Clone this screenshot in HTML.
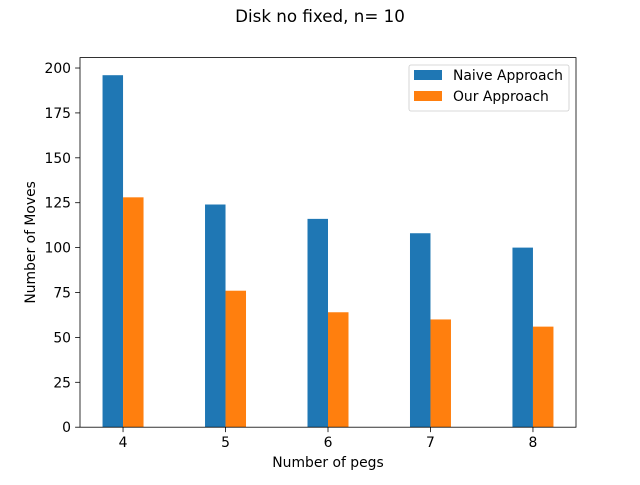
<!DOCTYPE html>
<html><head><meta charset="utf-8"><style>
body{margin:0;background:#fff}
svg text{font-family:"DejaVu Sans","Liberation Sans",sans-serif;fill:#000}
</style></head><body>
<svg id="chart" width="640" height="480" viewBox="0 0 640 480">
<rect width="640" height="480" fill="#fff"/>
<text x="320" y="22" font-size="16.7" text-anchor="middle">Disk no fixed, n= 10</text>
<g id="bars"></g>
<g id="axes"></g>
</svg>
<script>
const categories = [4, 5, 6, 7, 8];
const naiveValues = [196, 124, 116, 108, 100];
const ourValues = [128, 76, 64, 60, 56];
const yTicks = [0, 25, 50, 75, 100, 125, 150, 175, 200];
const seriesNames = ["Naive Approach", "Our Approach"];

const L=80,R=576,T=57.6,B=427.2;
const xmin=3.58,xmax=8.42,ymax=205.8;
const xs=v=>L+(v-xmin)/(xmax-xmin)*(R-L);
const ys=v=>B-v/ymax*(B-T);
const NS="http://www.w3.org/2000/svg";
function mk(tag,attrs,parent,txt){const e=document.createElementNS(NS,tag);for(const k in attrs)e.setAttribute(k,attrs[k]);if(txt!==undefined)e.textContent=txt;parent.appendChild(e);return e;}
const bars=document.getElementById('bars'),axes=document.getElementById('axes');
const bw=xs(0.2)-xs(0);
categories.forEach((c,i)=>{
  const a=mk('rect',{x:xs(c-0.2),y:ys(naiveValues[i]),width:bw,height:B-ys(naiveValues[i]),fill:'#1f77b4'},bars);
  
  
  const b=mk('rect',{x:xs(c),y:ys(ourValues[i]),width:bw,height:B-ys(ourValues[i]),fill:'#ff7f0e'},bars);
  
  
});
const frame=mk('rect',{x:L,y:T,width:R-L,height:B-T,fill:'none',stroke:'#000','stroke-width':0.8},axes);


categories.forEach(c=>{
  const x=xs(c);
  mk('line',{x1:x,x2:x,y1:B,y2:B+4.9,stroke:'#000','stroke-width':0.8},axes);
  const t=mk('text',{x:x,y:B+20,'font-size':13.9,'text-anchor':'middle'},axes,String(c));
  
  
});
yTicks.forEach(v=>{
  const y=ys(v);
  mk('line',{x1:L-4.9,x2:L,y1:y,y2:y,stroke:'#000','stroke-width':0.8},axes);
  const t=mk('text',{x:L-9,y:y+5,'font-size':13.9,'text-anchor':'end'},axes,String(v));
  
  
});
const xt=mk('text',{x:(L+R)/2,y:467,'font-size':13.9,'text-anchor':'middle'},axes,'Number of pegs');


const yt=mk('text',{x:0,y:0,'font-size':13.9,'text-anchor':'middle',transform:`translate(35,${(T+B)/2}) rotate(-90)`},axes,'Number of Moves');


const lg=mk('g',{},axes);


mk('rect',{x:409,y:65,width:160,height:46,rx:2,fill:'#fff','fill-opacity':0.8,stroke:'#ccc','stroke-width':0.8},lg);
const colors=['#1f77b4','#ff7f0e'];
seriesNames.forEach((n,i)=>{
  const g=mk('g',{},lg);
  
  
  mk('rect',{x:414,y:70+i*21,width:28,height:10,fill:colors[i]},g);
  mk('text',{x:453,y:80+i*21,'font-size':13.9},g,n);
});
</script>
</body></html>
